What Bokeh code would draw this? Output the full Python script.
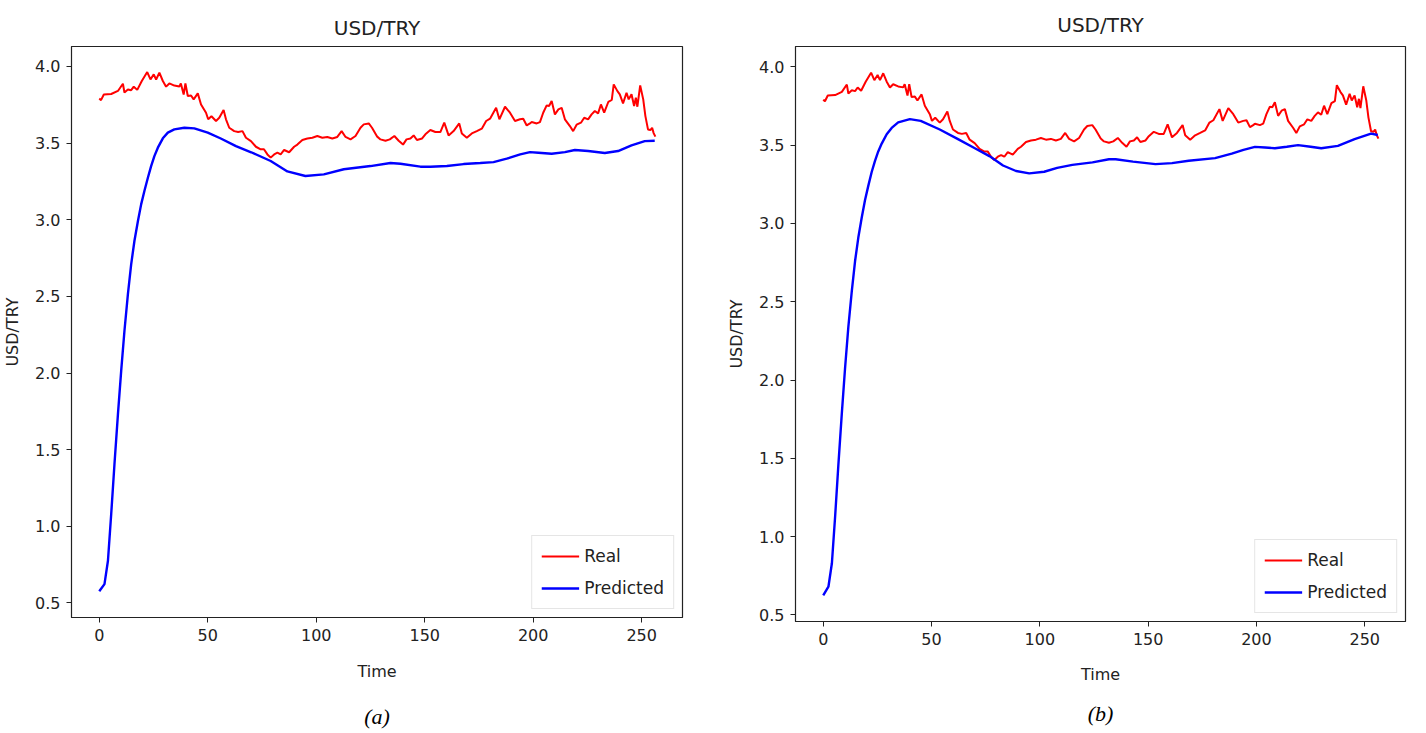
from bokeh.plotting import figure
from bokeh.layouts import row
from bokeh.models import Range1d, FixedTicker, Title, PrintfTickFormatter
from bokeh.embed import file_html
from bokeh.resources import INLINE

# ---------------- data ----------------
real_t = [0, 0.8, 2.1, 5.5, 8.6, 10.9, 11.6, 13.2, 14.7, 15.9, 17.5, 19.6, 22.1, 23.6, 25.1, 26.2,
          27.7, 29.3, 30.8, 32.3, 34.6, 36.9, 37.6, 38.9, 39.7, 40.8, 42.3, 43.5, 45.4, 46.9, 49.2,
          50.2, 51.7, 53.8, 55.3, 57.3, 58.4, 59.9, 62.2, 64, 66, 67.6, 69.9, 72.2, 74.4, 75.9,
          77.5, 79, 80.6, 82.1, 83.6, 85.2, 87.5, 89.8, 91.3, 93.6, 95.9, 98.2, 100.5, 102.8,
          105.1, 107.4, 109.7, 111.7, 113.5, 115.8, 118.1, 120.4, 121.9, 124.2, 125.7, 128.1,
          129.6, 131.9, 133.9, 136, 138, 140, 141.6, 143.4, 144.9, 146.4, 148.8, 150.3, 152.6,
          154.9, 157.2, 159, 161, 163.3, 165.9, 167.1, 169.4, 171.7, 174, 176.3, 178.3, 180.1,
          182.9, 184.4, 187, 189.3, 191.6, 193.9, 195.4, 197, 198.5, 199.3, 201.6, 203.1, 204.6,
          206.2, 207.3, 208.5, 210, 211.6, 213.1, 214.6, 216.9, 218.4, 220, 222, 223.5, 225.3,
          226.9, 228.4, 229.9, 231.2, 232.7, 234.6, 236.2, 237.1, 238.8, 239.9, 241.4, 243, 244,
          245.3, 246.5, 247.3, 248, 249.3, 250.7, 251.7, 252.9, 254, 254.8, 255.5, 256.3]
real_v = [3.79, 3.78, 3.817, 3.82, 3.84, 3.887, 3.83, 3.85, 3.845, 3.868, 3.847, 3.905, 3.963, 3.915,
          3.948, 3.915, 3.959, 3.905, 3.868, 3.889, 3.875, 3.869, 3.889, 3.817, 3.889, 3.807, 3.81,
          3.785, 3.824, 3.752, 3.698, 3.655, 3.675, 3.644, 3.665, 3.715, 3.655, 3.60, 3.578, 3.572,
          3.578, 3.535, 3.513, 3.476, 3.459, 3.46, 3.426, 3.405, 3.426, 3.437, 3.426, 3.455, 3.44,
          3.476, 3.49, 3.52, 3.53, 3.535, 3.546, 3.535, 3.54, 3.53, 3.54, 3.578, 3.54, 3.524, 3.546,
          3.60, 3.622, 3.628, 3.60, 3.542, 3.524, 3.515, 3.524, 3.546, 3.515, 3.49, 3.524, 3.53,
          3.55, 3.52, 3.53, 3.557, 3.585, 3.572, 3.572, 3.633, 3.55, 3.578, 3.628, 3.563, 3.535,
          3.563, 3.578, 3.594, 3.644, 3.659, 3.73, 3.655, 3.737, 3.698, 3.644, 3.655, 3.659, 3.615,
          3.628, 3.637, 3.628, 3.637, 3.698, 3.746, 3.742, 3.774, 3.687, 3.72, 3.73, 3.655, 3.611,
          3.578, 3.62, 3.633, 3.665, 3.655, 3.687, 3.709, 3.694, 3.752, 3.698, 3.768, 3.781, 3.883,
          3.839, 3.818, 3.759, 3.828, 3.785, 3.818, 3.742, 3.796, 3.737, 3.876, 3.785, 3.676, 3.589,
          3.585, 3.60, 3.565, 3.542]

pred_a_t = [0, 2.4, 4, 5.5, 7, 8.6, 10.1, 11.6, 13.2, 14.7, 16.2, 17.8, 19.3, 20.8, 22.4, 23.9, 25.4,
            27, 29.3, 31.6, 34.6, 39.2, 43.8, 50, 56, 63, 70, 79, 86.7, 95, 103.5, 112.7, 125, 134.2,
            138.8, 148, 152.6, 160.2, 167.9, 175.6, 181.7, 187.8, 194, 198.5, 202.4, 208.5, 214.6,
            219.2, 225.3, 233, 239.1, 245.3, 251.4, 256]
pred_a_v = [0.576, 0.623, 0.775, 1.08, 1.405, 1.73, 2.014, 2.274, 2.514, 2.709, 2.861, 2.99, 3.10,
            3.187, 3.274, 3.35, 3.415, 3.47, 3.531, 3.568, 3.589, 3.60, 3.596, 3.568, 3.53, 3.48, 3.44,
            3.383, 3.315, 3.285, 3.296, 3.329, 3.35, 3.37, 3.365, 3.346, 3.346, 3.35, 3.363, 3.37,
            3.376, 3.398, 3.426, 3.441, 3.437, 3.43, 3.441, 3.455, 3.448, 3.435, 3.448, 3.485, 3.513,
            3.515]

pred_b_t = [0, 2.4, 4, 5.5, 7, 8.6, 10.1, 11.6, 13.2, 14.7, 16.2, 17.8, 19.3, 20.8, 22.4, 23.9, 25.4,
            27, 29.3, 31.6, 34.6, 40, 45, 53.8, 62, 70, 76.7, 83, 89, 95.1, 102, 108, 115, 124.3,
            131.9, 135, 143, 153.4, 161, 168.7, 180.9, 188.6, 194, 199.3, 204, 208.5, 214, 219.2,
            225, 229.9, 237.6, 245.3, 252.9, 256]
pred_b_v = [0.625, 0.68, 0.83, 1.13, 1.46, 1.79, 2.08, 2.34, 2.57, 2.76, 2.91, 3.04, 3.15, 3.24, 3.33,
            3.40, 3.46, 3.51, 3.57, 3.61, 3.645, 3.666, 3.655, 3.60, 3.54, 3.48, 3.43, 3.37, 3.335,
            3.32, 3.33, 3.355, 3.374, 3.39, 3.41, 3.41, 3.395, 3.379, 3.385, 3.40, 3.417, 3.446, 3.47,
            3.489, 3.485, 3.48, 3.49, 3.50, 3.49, 3.48, 3.495, 3.538, 3.574, 3.565]

x_ticks = [0, 50, 100, 150, 200, 250]
y_ticks = [0.5, 1.0, 1.5, 2.0, 2.5, 3.0, 3.5, 4.0]
title_text = "USD/TRY"
y_label = "USD/TRY"
x_label = "Time"
series_names = ["Real", "Predicted"]
captions = ["(a)", "(b)"]

FONT = "DejaVu Sans"
TXT = "#222222"


def make_panel(pred_t, pred_v, yr, frame_w, frame_h, b_left, b_right,
               title_standoff, xlabel_standoff, caption, cap_standoff):
    p = figure(frame_width=frame_w, frame_height=frame_h,
               x_range=Range1d(-12.8, 268.8), y_range=Range1d(*yr),
               output_backend="svg", toolbar_location=None,
               min_border_left=b_left, min_border_right=b_right,
               min_border_top=0, min_border_bottom=0,
               background_fill_color="white", border_fill_color="white")
    p.title.text = title_text
    p.title.align = "center"
    p.title.text_font = FONT
    p.title.text_font_size = "20px"
    p.title.text_font_style = "normal"
    p.title.text_color = TXT
    p.title.standoff = title_standoff

    p.line(real_t, real_v, color="#ff0000", line_width=2.0, legend_label=series_names[0])
    p.line(pred_t, pred_v, color="#0000ff", line_width=2.4, legend_label=series_names[1])

    p.xgrid.visible = False
    p.ygrid.visible = False
    p.outline_line_color = "#222222"
    p.outline_line_width = 1.2

    p.xaxis.ticker = FixedTicker(ticks=x_ticks)
    p.yaxis.ticker = FixedTicker(ticks=y_ticks)
    p.yaxis.formatter = PrintfTickFormatter(format="%.1f")
    for ax in (p.xaxis, p.yaxis):
        ax.minor_tick_line_color = None
        ax.major_tick_in = 0
        ax.major_tick_out = 5
        ax.major_tick_line_color = "#222222"
        ax.axis_line_color = "#222222"
        ax.major_label_text_font = FONT
        ax.major_label_text_font_size = "16px"
        ax.major_label_text_color = TXT
        ax.axis_label_text_font = FONT
        ax.axis_label_text_font_size = "16px"
        ax.axis_label_text_font_style = "normal"
        ax.axis_label_text_color = TXT
        ax.major_label_standoff = 6
    p.xaxis.axis_label = x_label
    p.yaxis.axis_label = y_label
    p.xaxis.axis_label_standoff = xlabel_standoff
    p.yaxis.axis_label_standoff = 10

    lg = p.legend[0]
    lg.location = "bottom_right"
    lg.margin = 8
    lg.padding = 9
    lg.spacing = 10
    lg.glyph_width = 38
    lg.glyph_height = 22
    lg.label_text_font = FONT
    lg.label_text_font_size = "17px"
    lg.label_text_color = TXT
    lg.border_line_color = "#cccccc"
    lg.border_line_width = 1
    lg.background_fill_alpha = 0.85

    cap = Title(text=caption, align="center", text_font="Liberation Serif",
                text_font_style="italic", text_font_size="22px", text_color="#000000",
                standoff=cap_standoff)
    p.add_layout(cap, "below")
    return p


pa = make_panel(pred_a_t, pred_a_v, (0.405, 4.13), 611, 571, 64, 30, 13, 18, captions[0], 36)
pb = make_panel(pred_b_t, pred_b_v, (0.458, 4.13), 610, 575, 83, 12, 20, 17, captions[1], 24)

layout = row(pa, pb)
open("out.html", "w").write(file_html(layout, INLINE))
